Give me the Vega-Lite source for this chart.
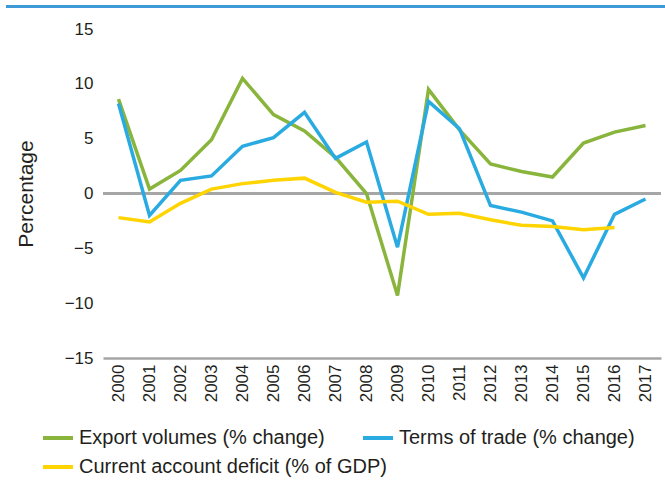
{
  "$schema": "https://vega.github.io/schema/vega-lite/v6.json",
  "padding": {"left": 5, "top": 4, "right": 0, "bottom": 0},
  "background": "white",
  "spacing": 12,
  "config": {
    "font": "Liberation Sans",
    "view": {"stroke": null}
  },
  "vconcat": [
    {
      "width": 660,
      "height": 3,
      "view": {"fill": "#3D9AD6", "stroke": null},
      "data": {"values": [{}]},
      "mark": {"type": "rule", "strokeWidth": 0},
      "encoding": {}
    },
    {
      "spacing": 8,
      "hconcat": [
        {
          "width": 1,
          "height": 1,
          "data": {"values": [{}]},
          "mark": {"type": "rule", "strokeWidth": 0},
          "encoding": {}
        },
        {
          "width": 558,
          "height": 329,
          "data": {
            "values": [
              {"year": "2000", "series": "Export volumes (% change)", "value": 8.6},
              {"year": "2001", "series": "Export volumes (% change)", "value": 0.4},
              {"year": "2002", "series": "Export volumes (% change)", "value": 2.1},
              {"year": "2003", "series": "Export volumes (% change)", "value": 4.9},
              {"year": "2004", "series": "Export volumes (% change)", "value": 10.5},
              {"year": "2005", "series": "Export volumes (% change)", "value": 7.2},
              {"year": "2006", "series": "Export volumes (% change)", "value": 5.7},
              {"year": "2007", "series": "Export volumes (% change)", "value": 3.3},
              {"year": "2008", "series": "Export volumes (% change)", "value": 0.0},
              {"year": "2009", "series": "Export volumes (% change)", "value": -9.3},
              {"year": "2010", "series": "Export volumes (% change)", "value": 9.5},
              {"year": "2011", "series": "Export volumes (% change)", "value": 5.8},
              {"year": "2012", "series": "Export volumes (% change)", "value": 2.7},
              {"year": "2013", "series": "Export volumes (% change)", "value": 2.0},
              {"year": "2014", "series": "Export volumes (% change)", "value": 1.5},
              {"year": "2015", "series": "Export volumes (% change)", "value": 4.6},
              {"year": "2016", "series": "Export volumes (% change)", "value": 5.6},
              {"year": "2017", "series": "Export volumes (% change)", "value": 6.2},
              {"year": "2000", "series": "Terms of trade (% change)", "value": 8.2},
              {"year": "2001", "series": "Terms of trade (% change)", "value": -2.0},
              {"year": "2002", "series": "Terms of trade (% change)", "value": 1.2},
              {"year": "2003", "series": "Terms of trade (% change)", "value": 1.6},
              {"year": "2004", "series": "Terms of trade (% change)", "value": 4.3},
              {"year": "2005", "series": "Terms of trade (% change)", "value": 5.1},
              {"year": "2006", "series": "Terms of trade (% change)", "value": 7.4},
              {"year": "2007", "series": "Terms of trade (% change)", "value": 3.2},
              {"year": "2008", "series": "Terms of trade (% change)", "value": 4.7},
              {"year": "2009", "series": "Terms of trade (% change)", "value": -4.9},
              {"year": "2010", "series": "Terms of trade (% change)", "value": 8.4},
              {"year": "2011", "series": "Terms of trade (% change)", "value": 5.9},
              {"year": "2012", "series": "Terms of trade (% change)", "value": -1.1},
              {"year": "2013", "series": "Terms of trade (% change)", "value": -1.7},
              {"year": "2014", "series": "Terms of trade (% change)", "value": -2.5},
              {"year": "2015", "series": "Terms of trade (% change)", "value": -7.7},
              {"year": "2016", "series": "Terms of trade (% change)", "value": -1.9},
              {"year": "2017", "series": "Terms of trade (% change)", "value": -0.5},
              {"year": "2000", "series": "Current account deficit (% of GDP)", "value": -2.2},
              {"year": "2001", "series": "Current account deficit (% of GDP)", "value": -2.6},
              {"year": "2002", "series": "Current account deficit (% of GDP)", "value": -0.9},
              {"year": "2003", "series": "Current account deficit (% of GDP)", "value": 0.4},
              {"year": "2004", "series": "Current account deficit (% of GDP)", "value": 0.9},
              {"year": "2005", "series": "Current account deficit (% of GDP)", "value": 1.2},
              {"year": "2006", "series": "Current account deficit (% of GDP)", "value": 1.4},
              {"year": "2007", "series": "Current account deficit (% of GDP)", "value": 0.1},
              {"year": "2008", "series": "Current account deficit (% of GDP)", "value": -0.8},
              {"year": "2009", "series": "Current account deficit (% of GDP)", "value": -0.7},
              {"year": "2010", "series": "Current account deficit (% of GDP)", "value": -1.9},
              {"year": "2011", "series": "Current account deficit (% of GDP)", "value": -1.8},
              {"year": "2012", "series": "Current account deficit (% of GDP)", "value": -2.4},
              {"year": "2013", "series": "Current account deficit (% of GDP)", "value": -2.9},
              {"year": "2014", "series": "Current account deficit (% of GDP)", "value": -3.0},
              {"year": "2015", "series": "Current account deficit (% of GDP)", "value": -3.3},
              {"year": "2016", "series": "Current account deficit (% of GDP)", "value": -3.1}
            ]
          },
          "layer": [
            {
              "mark": {"type": "rule", "color": "#A6A6A6", "strokeWidth": 2},
              "encoding": {"y": {"datum": 0}}
            },
            {
              "mark": {"type": "line", "strokeWidth": 3.5},
              "encoding": {
                "x": {
                  "field": "year",
                  "type": "ordinal",
                  "scale": {"type": "point", "padding": 0.5},
                  "axis": {
                    "title": null,
                    "labelAngle": 270,
                    "labelFontSize": 17,
                    "labelColor": "#231F20",
                    "labelPadding": 6,
                    "ticks": false,
                    "domainColor": "#A6A6A6",
                    "domainWidth": 2.5,
                    "grid": false
                  }
                },
                "y": {
                  "field": "value",
                  "type": "quantitative",
                  "scale": {"domain": [-15, 15], "nice": false, "zero": false},
                  "axis": {
                    "title": "Percentage",
                    "titleFontSize": 21,
                    "titleFontWeight": "normal",
                    "titleColor": "#231F20",
                    "titlePadding": 28,
                    "values": [-15, -10, -5, 0, 5, 10, 15],
                    "labelExpr": "replace(datum.label, '-', '\u2013')",
                    "labelFontSize": 17,
                    "labelColor": "#231F20",
                    "labelPadding": 10,
                    "ticks": false,
                    "domain": false,
                    "grid": false
                  }
                },
                "color": {
                  "field": "series",
                  "type": "nominal",
                  "scale": {
                    "domain": ["Export volumes (% change)", "Current account deficit (% of GDP)", "Terms of trade (% change)"],
                    "range": ["#89B53C", "#FFD400", "#29ABE2"]
                  },
                  "legend": {
                    "title": null,
                    "orient": "none",
                    "legendX": 35,
                    "legendY": 416,
                    "columns": 2,
                    "gridAlign": "none",
                    "columnPadding": -32,
                    "rowPadding": 2,
                    "symbolType": "stroke",
                    "symbolSize": 900,
                    "symbolStrokeWidth": 4,
                    "labelFontSize": 20,
                    "labelColor": "#231F20",
                    "labelOffset": 4,
                    "labelLimit": 0
                  }
                }
              }
            }
          ]
        }
      ]
    }
  ]
}
